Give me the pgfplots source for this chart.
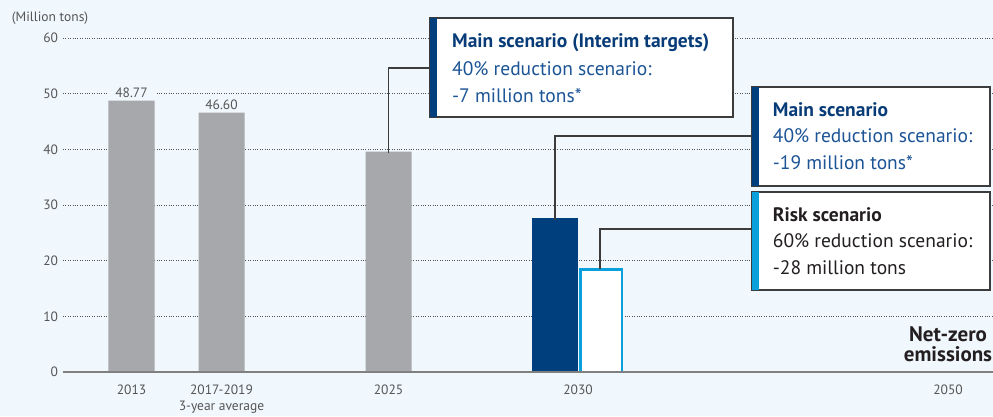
\documentclass[border=0pt]{standalone}
\usepackage{pgfplots}
\pgfplotsset{compat=1.18}
\usepackage{fontspec}
\setmainfont{PT Sans}
\definecolor{bg}{RGB}{240,247,253}
\definecolor{darkBlue}{RGB}{0,63,125}
\definecolor{lightBlue}{RGB}{10,160,220}
\definecolor{barGray}{RGB}{167,168,172}
\definecolor{tickGray}{RGB}{85,85,85}
\definecolor{titleBlue}{RGB}{8,60,120}
\definecolor{bodyBlue}{RGB}{28,84,150}
\definecolor{boxLine}{RGB}{60,60,60}
\definecolor{txtDark}{RGB}{35,31,32}
\begin{document}
\begin{tikzpicture}
\fill[bg, use as bounding box] (-63pt,-44pt) rectangle (930pt,372pt);
\begin{axis}[
  at={(0pt,0pt)}, anchor=south west,
  scale only axis, width=930pt, height=334pt,
  xmin=63, xmax=993, ymin=0, ymax=60,
  axis line style={draw=none},
  major tick length=0pt,
  ytick={0,10,20,30,40,50,60},
  ymajorgrids,
  grid style={dotted, color=tickGray, line width=0.7pt},
  xtick={131.5,221.5,388.5,578,948},
  xticklabels={2013,{2017-2019\\3-year average},2025,2030,2050},
  xticklabel style={align=center, font=\fontsize{13.5}{16}\selectfont, text=tickGray, yshift=-9pt},
  yticklabel style={font=\fontsize{13.5}{16}\selectfont, text=tickGray, xshift=-1.5pt},
  /pgf/number format/assume math mode=true,
  clip=false,
]
\addplot[ybar, bar width=46pt, bar shift=0pt, fill=barGray, draw=none] coordinates {(131.5,48.77) (221.5,46.60) (388.5,39.6)};
\addplot[ybar, bar width=46pt, bar shift=0pt, fill=darkBlue, draw=none] coordinates {(555,27.6)};
\addplot[ybar, bar width=41.5pt, bar shift=0pt, fill=white, draw=lightBlue, line width=2.5pt] coordinates {(601,18.4)};
\draw[color=gray, line width=2pt] (axis cs:63,0) -- (axis cs:993,0);
\node[fill=bg, minimum width=46pt, inner sep=1pt, anchor=south, font=\fontsize{13.5}{16}\selectfont, text=tickGray] at (axis cs:131.5,48.77) [yshift=2pt] {48.77};
\node[inner sep=1pt, anchor=south, font=\fontsize{13.5}{16}\selectfont, text=tickGray] at (axis cs:221.5,46.60) [yshift=2pt] {46.60};
\end{axis}
% y unit label
\node[anchor=base west, inner sep=0pt, font=\fontsize{13.5}{16}\selectfont, text=tickGray] at (-51.3pt,350pt) {(Million tons)};
% connectors
\draw[boxLine, line width=1.2pt] (325.5pt,219pt) -- (325.5pt,304pt) -- (367pt,304pt);
\draw[boxLine, line width=1.2pt] (492pt,152pt) -- (492pt,236pt) -- (689pt,236pt);
\draw[boxLine, line width=1.2pt] (537pt,103pt) -- (537pt,143pt) -- (689pt,143pt);
% boxes
\filldraw[fill=white, draw=boxLine, line width=1.2pt] (367pt,255pt) rectangle (670pt,354pt);
\fill[darkBlue] (367pt,255pt) rectangle (374pt,354pt);
\filldraw[fill=white, draw=boxLine, line width=1.2pt] (689pt,186pt) rectangle (927pt,285pt);
\fill[darkBlue] (689pt,186pt) rectangle (696pt,285pt);
\filldraw[fill=white, draw=boxLine, line width=1.2pt] (689pt,82pt) rectangle (927pt,180pt);
\fill[lightBlue] (689pt,82pt) rectangle (696pt,180pt);
% box texts
\begin{scope}[every node/.style={anchor=base west, inner sep=0pt, font=\fontsize{19.5}{22}\selectfont}]
\node[text=titleBlue, font=\fontsize{19.5}{22}\selectfont\bfseries] at (389pt,324.3pt) {Main scenario (Interim targets)};
\node[text=bodyBlue] at (389pt,296.7pt) {40\% reduction scenario:};
\node[text=bodyBlue] at (389pt,270pt) {-7 million tons*};
\node[text=titleBlue, font=\fontsize{19.5}{22}\selectfont\bfseries] at (709.7pt,256pt) {Main scenario};
\node[text=bodyBlue] at (709.7pt,229.3pt) {40\% reduction scenario:};
\node[text=bodyBlue] at (709.7pt,202.7pt) {-19 million tons*};
\node[text=txtDark, font=\fontsize{19.5}{22}\selectfont\bfseries] at (709.7pt,151pt) {Risk scenario};
\node[text=txtDark] at (709.7pt,124.3pt) {60\% reduction scenario:};
\node[text=txtDark] at (709.7pt,97.7pt) {-28 million tons};
\end{scope}
\node[anchor=base, inner sep=0pt, text=txtDark, font=\fontsize{21}{24}\selectfont\bfseries] at (885pt,30.3pt) {Net-zero};
\node[anchor=base, inner sep=0pt, text=txtDark, font=\fontsize{21}{24}\selectfont\bfseries] at (885pt,10.3pt) {emissions};
\end{tikzpicture}
\end{document}
